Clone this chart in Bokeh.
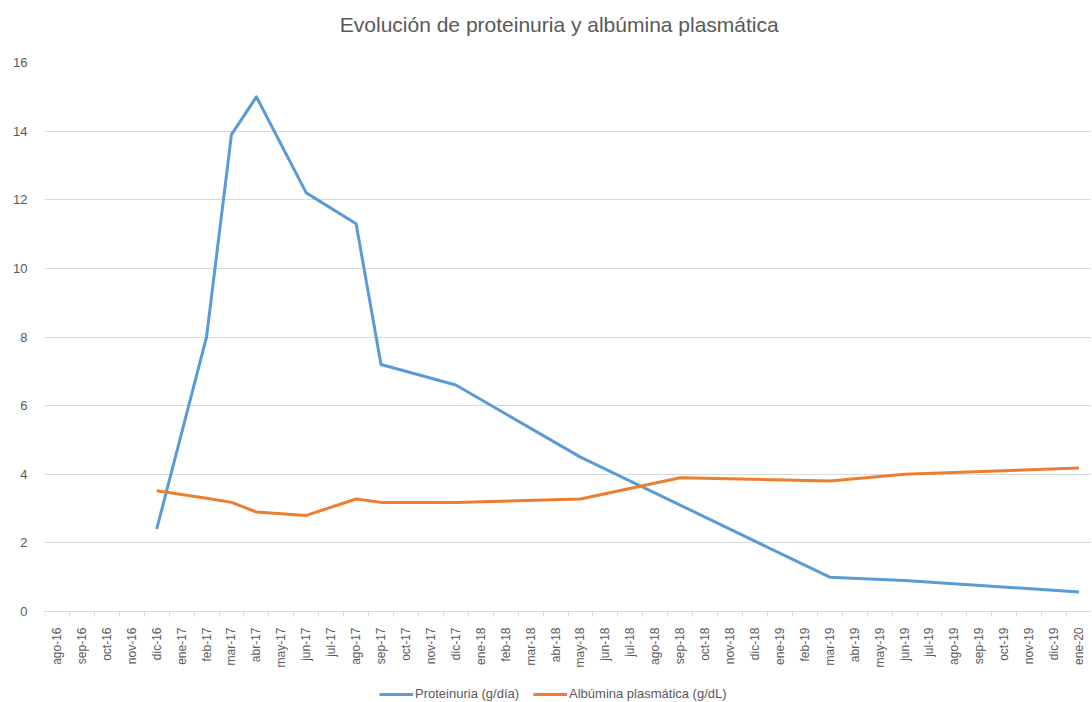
from bokeh.plotting import figure
from bokeh.models import FixedTicker, Legend, LegendItem
from bokeh.embed import file_html
from bokeh.resources import INLINE
import math

months = ["ago-16", "sep-16", "oct-16", "nov-16", "dic-16", "ene-17", "feb-17", "mar-17",
          "abr-17", "may-17", "jun-17", "jul-17", "ago-17", "sep-17", "oct-17", "nov-17",
          "dic-17", "ene-18", "feb-18", "mar-18", "abr-18", "may-18", "jun-18", "jul-18",
          "ago-18", "sep-18", "oct-18", "nov-18", "dic-18", "ene-19", "feb-19", "mar-19",
          "abr-19", "may-19", "jun-19", "jul-19", "ago-19", "sep-19", "oct-19", "nov-19",
          "dic-19", "ene-20"]

prot_months = ["dic-16", "feb-17", "mar-17", "abr-17", "jun-17", "ago-17", "sep-17",
               "dic-17", "may-18", "mar-19", "jun-19", "ene-20"]
prot_values = [2.4, 8.0, 13.9, 15.0, 12.2, 11.3, 7.2, 6.6, 4.5, 1.0, 0.9, 0.57]

alb_months = ["dic-16", "feb-17", "mar-17", "abr-17", "jun-17", "ago-17", "sep-17",
              "dic-17", "may-18", "sep-18", "mar-19", "jun-19", "ene-20"]
alb_values = [3.52, 3.3, 3.18, 2.9, 2.8, 3.28, 3.18, 3.18, 3.28, 3.9, 3.8, 4.0, 4.18]

y_ticks = [0, 2, 4, 6, 8, 10, 12, 14, 16]

title_text = "Evolución  de proteinuria  y albúmina  plasmática"

FONT = "Liberation Sans"
GRAY = "#595959"

# plot area 0..16 spans 549 px; the frame extends below 0 to hold labels and legend
y_max = 16
y_min = -y_max * 91 / 549

p = figure(frame_width=1047, frame_height=640, output_backend="svg", toolbar_location=None,
           x_range=(-0.5, len(months) - 0.5), y_range=(y_min, y_max),
           min_border_left=44, min_border_right=0, min_border_top=62, min_border_bottom=0)

p.title.text = title_text + "\n "
p.title.align = "center"
p.title.text_font = FONT
p.title.text_font_size = "21px"
p.title.text_font_style = "normal"
p.title.text_color = GRAY
p.title.standoff = 8

p.outline_line_color = None
p.background_fill_color = "white"
p.border_fill_color = "white"

# x axis, drawn at y = 0
p.xaxis.fixed_location = 0
p.xaxis.ticker = FixedTicker(ticks=list(range(len(months))),
                             minor_ticks=[i - 0.5 for i in range(len(months) + 1)])
p.xaxis.major_label_overrides = {i: m for i, m in enumerate(months)}
p.xaxis.major_label_orientation = math.pi / 2
p.xaxis.major_tick_line_color = None
p.xaxis.major_tick_out = 0
p.xaxis.major_tick_in = 0
p.xaxis.minor_tick_line_color = "#d9d9d9"
p.xaxis.minor_tick_in = 0
p.xaxis.minor_tick_out = 5
p.xaxis.axis_line_color = "#d9d9d9"
p.xaxis.major_label_text_font = FONT
p.xaxis.major_label_text_font_size = "12px"
p.xaxis.major_label_text_color = GRAY
p.xaxis.major_label_standoff = 11

# y axis
p.yaxis.ticker = FixedTicker(ticks=y_ticks)
p.yaxis.axis_line_color = None
p.yaxis.major_tick_line_color = None
p.yaxis.minor_tick_line_color = None
p.yaxis.major_label_text_font = FONT
p.yaxis.major_label_text_font_size = "13px"
p.yaxis.major_label_text_color = GRAY
p.yaxis.major_label_standoff = 11

p.xgrid.grid_line_color = None
p.ygrid.grid_line_color = "#d9d9d9"
p.ygrid.grid_line_width = 1

px = [months.index(m) for m in prot_months]
ax = [months.index(m) for m in alb_months]

r1 = p.line(px, prot_values, line_color="#5B9BD5", line_width=3, line_join="round")
r2 = p.line(ax, alb_values, line_color="#ED7D31", line_width=3, line_join="round")

legend = Legend(items=[LegendItem(label="Proteinuria (g/día)", renderers=[r1]),
                       LegendItem(label="Albúmina plasmática (g/dL)", renderers=[r2])],
                orientation="horizontal", location=(335, 1))
legend.border_line_color = None
legend.background_fill_alpha = 0
legend.label_text_font = FONT
legend.label_text_font_size = "13px"
legend.label_text_color = GRAY
legend.glyph_width = 34
legend.glyph_height = 14
legend.label_height = 14
legend.label_standoff = 2
legend.spacing = 14
legend.padding = 1
legend.margin = 0
p.add_layout(legend, "center")

open("out.html", "w").write(file_html(p, INLINE))
